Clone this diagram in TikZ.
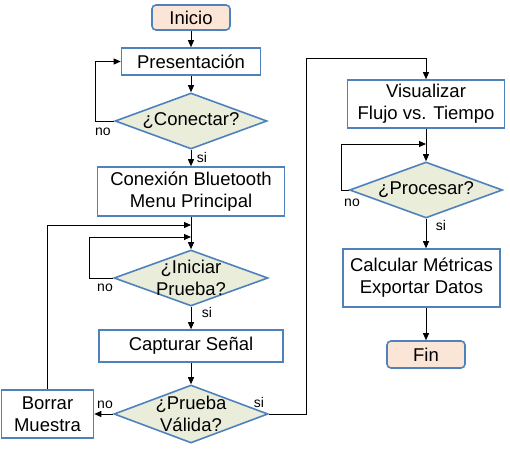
\documentclass[tikz,border=0pt]{standalone}
\usepackage{fontspec}
\setmainfont{Liberation Sans}
\usetikzlibrary{arrows.meta,shapes.geometric}
\definecolor{boxblue}{HTML}{4F81BD}
\definecolor{endsfill}{HTML}{FBE5D6}
\definecolor{askfill}{HTML}{E9EDDA}

\tikzset{
  proc/.style={draw=boxblue,line width=1.6pt,fill=white,align=center,inner sep=0pt},
  ask/.style={diamond,shape aspect=2.75,draw=boxblue,line width=1.6pt,fill=askfill,
    align=center,inner sep=-12pt},
  term/.style={draw=boxblue,line width=1.6pt,fill=endsfill,rounded corners=4pt,inner sep=0pt},
  flow/.style={line width=0.9pt,-{Triangle[length=7pt,width=6pt]}},
  lbl/.style={font=\fontsize{14}{16}\selectfont,inner sep=0pt}
}

\begin{document}
\begin{tikzpicture}[x=1pt,y=-1pt,font=\fontsize{18.5}{22}\selectfont]
\path[use as bounding box] (0,0) rectangle (510,449);

% left column
\node[term,minimum width=78pt,minimum height=25pt] (inicio) at (191,17.5) {Inicio};
\node[proc,minimum width=139pt,minimum height=27pt] (present) at (191,61.5) {Presentación};
\node[ask,minimum width=152pt,minimum height=56pt] (conectar) at (191,121) {¿Conectar?};
\node[proc,minimum width=187pt,minimum height=49pt] (bluetooth) at (191,191.5)
  {Conexión Bluetooth\\Menu Principal};
\node[ask,minimum width=154pt,minimum height=56pt] (iniciar) at (191,278) {¿Iniciar\\Prueba?};
\node[proc,minimum width=184pt,minimum height=32pt] (capturar) at (191,346) {Capturar Señal};
\node[ask,minimum width=154pt,minimum height=58pt] (valida) at (191,414) {¿Prueba\\Válida?};
\node[proc,minimum width=92pt,minimum height=48pt] (borrar) at (47.5,414) {Borrar\\Muestra};

% right column
\node[proc,minimum width=157pt,minimum height=48pt] (visual) at (426,104)
  {Visualizar\\Flujo vs. Tiempo};
\node[ask,minimum width=153pt,minimum height=56pt] (procesar) at (426,190) {¿Procesar?};
\node[proc,minimum width=157pt,minimum height=58pt] (calcular) at (421.5,278)
  {Calcular Métricas\\Exportar Datos};
\node[term,minimum width=78pt,minimum height=27pt] (fin) at (426,354.5) {Fin};

% joining points on the main lines
\coordinate (backtop) at (191,225);
\coordinate (waitin) at (191,237);
\coordinate (waitproc) at (426,144);
\coordinate (topturn) at (306,58);

\draw[flow] (inicio) -- (present);
\draw[flow] (present) -- (conectar);
\draw[flow] (conectar) -- (bluetooth);
\draw[flow] (conectar.west) -- ++(-19,0) |- (present.west);
\draw[flow] (bluetooth) -- (iniciar);
\draw[flow] (iniciar.west) -- ++(-24,0) |- (waitin);
\draw[flow] (borrar.north) |- (backtop);
\draw[flow] (iniciar) -- (capturar);
\draw[flow] (capturar) -- (valida);
\draw[flow] (valida) -- (borrar);
\draw[flow] (valida.east) -| (topturn) -| (visual.north);
\draw[flow] (visual) -- (procesar);
\draw[flow] (procesar.west) -- ++(-7.5,0) |- (waitproc);
\draw[flow] (procesar.south) -- (procesar.south |- calcular.north);
\draw[flow] (calcular.south -| fin.north) -- (fin.north);

% branch labels
\node[lbl] (noconectar) at (103,132) {no};
\node[lbl] (siconectar) at (202,157) {si};
\node[lbl] (noiniciar) at (105,288) {no};
\node[lbl] (siiniciar) at (207,312) {si};
\node[lbl] (novalida) at (105,405) {no};
\node[lbl] (sivalida) at (259,402) {si};
\node[lbl] (noprocesar) at (352,203) {no};
\node[lbl] (siprocesar) at (441,225) {si};
\end{tikzpicture}
\end{document}
